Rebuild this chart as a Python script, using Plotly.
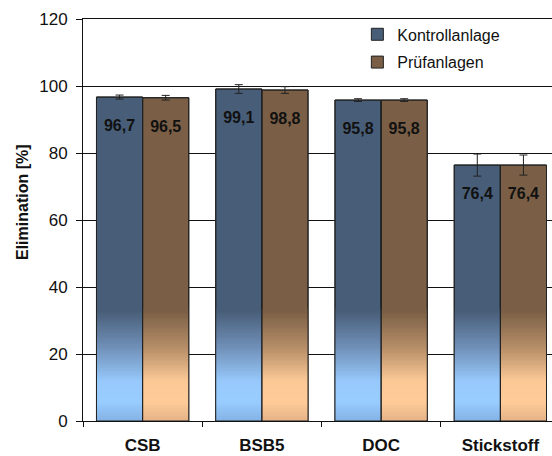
import plotly.graph_objects as go

# ---- data ----
categories = ["CSB", "BSB5", "DOC", "Stickstoff"]
kontroll = [96.7, 99.1, 95.8, 76.4]
pruef = [96.5, 98.8, 95.8, 76.4]
kontroll_err = [0.6, 1.3, 0.4, 3.3]
pruef_err = [0.7, 1.0, 0.4, 3.0]
series_names = ["Kontrollanlage", "Prüfanlagen"]
y_ticks = [0, 20, 40, 60, 80, 100, 120]
y_title = "Elimination [%]"

# ---- style ----
FONT = "Liberation Sans, Arial, sans-serif"
dark = {"K": "#485e78", "P": "#7a5f46"}
# gradient stops (y in data units, colour)
grad_stops = {
    "K": [(0, (0x84, 0xb2, 0xe4)), (6, (0x99, 0xcc, 0xff)), (12, (0x97, 0xc9, 0xfc)),
          (22, (0x70, 0x90, 0xb8)), (33, (0x48, 0x5e, 0x78))],
    "P": [(0, (0xe4, 0xb2, 0x86)), (6, (0xff, 0xcc, 0x99)), (12, (0xfc, 0xc9, 0x96)),
          (22, (0xb6, 0x8e, 0x68)), (33, (0x7a, 0x5f, 0x46))],
}
GRAD_STEP = 0.5
GRAD_TOP = 33.5


def grad_color(stops, y):
    for (y0, c0), (y1, c1) in zip(stops[:-1], stops[1:]):
        if y0 <= y <= y1:
            t = (y - y0) / (y1 - y0)
            c = [round(a + (b - a) * t) for a, b in zip(c0, c1)]
            return f"rgb({c[0]},{c[1]},{c[2]})"
    c = stops[-1][1]
    return f"rgb({c[0]},{c[1]},{c[2]})"


def fmt(v):
    return f"{v:.1f}".replace(".", ",")


fig = go.Figure()

groups = [("K", kontroll, kontroll_err, series_names[0]),
          ("P", pruef, pruef_err, series_names[1])]

# main bars (dark colour, legend entries)
for key, vals, err, name in groups:
    fig.add_trace(go.Bar(
        x=categories, y=vals, name=name, offsetgroup=key, legendgroup=key,
        marker=dict(color=dark[key], line=dict(color="#222222", width=1)),
        hoverinfo="skip",
    ))

# gradient overlays at the bottom of each bar
for key, vals, err, name in groups:
    xs, bases, hs, cols = [], [], [], []
    n = int(GRAD_TOP / GRAD_STEP)
    for cat in categories:
        for i in range(n):
            y0 = i * GRAD_STEP
            xs.append(cat)
            bases.append(y0)
            hs.append(GRAD_STEP * 1.15)
            cols.append(grad_color(grad_stops[key], y0 + GRAD_STEP / 2))
    fig.add_trace(go.Bar(
        x=xs, y=hs, base=bases, offsetgroup=key, showlegend=False,
        marker=dict(color=cols, line=dict(width=0)), hoverinfo="skip",
    ))

# outlines + error bars
for key, vals, err, name in groups:
    fig.add_trace(go.Bar(
        x=categories, y=vals, offsetgroup=key, showlegend=False,
        marker=dict(color="rgba(0,0,0,0)", line=dict(color="#222222", width=1)),
        error_y=dict(type="data", array=err, visible=True, color="#222222",
                     thickness=1, width=4),
        hoverinfo="skip",
    ))

# value labels inside bars
for key, vals, err, name in groups:
    fig.add_trace(go.Scatter(
        x=categories, y=[v - 8.9 for v in vals], mode="text", offsetgroup=key,
        text=[fmt(v) for v in vals], showlegend=False,
        textfont=dict(family=FONT, size=16, color="#111111", weight="bold"),
        hoverinfo="skip",
    ))

fig.update_layout(
    width=552, height=456,
    margin=dict(l=83, r=0, t=19, b=35, autoexpand=False),
    paper_bgcolor="white", plot_bgcolor="white",
    barmode="group", bargap=0.226, bargroupgap=0,
    scattermode="group", scattergap=0.226,
    font=dict(family=FONT, color="#111111"),
    legend=dict(x=0.585, y=1.004, xanchor="left", yanchor="top",
                font=dict(family=FONT, size=16, color="#111111"),
                bgcolor="rgba(255,255,255,0)", itemwidth=30, tracegroupgap=4),
    showlegend=True,
    annotations=[dict(
        text=y_title, textangle=-90, xref="paper", yref="paper",
        x=(22 - 83) / 469, y=(421 - 202) / 402, xanchor="center", yanchor="middle",
        showarrow=False,
        font=dict(family=FONT, size=16, color="#111111", weight="bold"),
    )],
)
fig.update_xaxes(
    type="category", categoryorder="array", categoryarray=categories,
    range=[-0.5, 3.433], tickson="boundaries", ticks="outside", ticklen=5,
    tickcolor="#111111", showline=True, linecolor="#111111", linewidth=1,
    mirror=True, showgrid=False,
    tickfont=dict(family=FONT, size=17, color="#111111", weight="bold"),
    ticklabelstandoff=9,
)
fig.update_yaxes(
    range=[0, 120], tickvals=y_ticks, ticks="outside", ticklen=6,
    tickcolor="#111111", showline=True, linecolor="#111111", linewidth=1,
    showgrid=True, gridcolor="#111111", gridwidth=1, zeroline=False,
    tickfont=dict(family=FONT, size=17, color="#111111"),
    ticklabelstandoff=5,
)

fig.write_html(
    "out.html",
    config={"displayModeBar": False},
    post_script="document.body.style.margin='0px';document.body.style.padding='0px';",
)
